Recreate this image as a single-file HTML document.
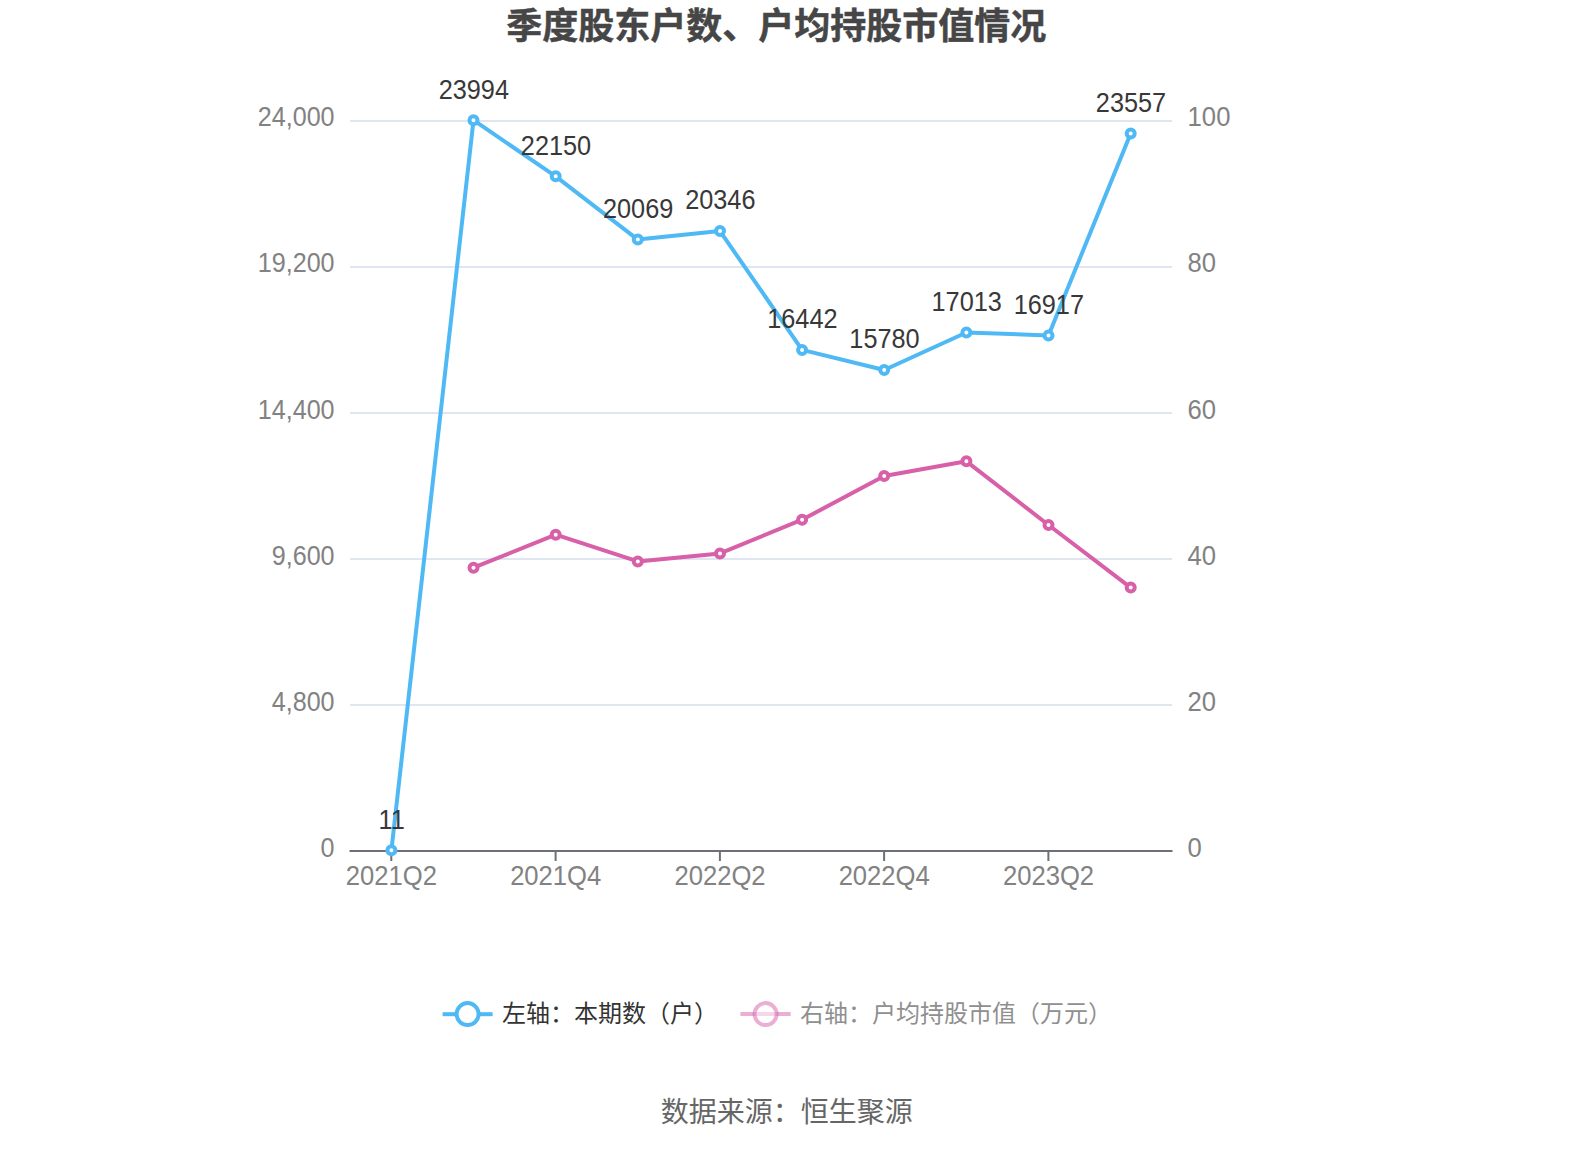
<!DOCTYPE html>
<html lang="zh-CN"><head><meta charset="utf-8"><title>季度股东户数、户均持股市值情况</title>
<style>
html,body{margin:0;padding:0;background:#fff;}
body{width:1574px;height:1150px;overflow:hidden;}
svg{display:block;}
text{font-family:"Liberation Sans","Noto Sans CJK SC",sans-serif;}
.ax{font-size:27px;fill:#828282;}
.dl{font-size:27px;fill:#383838;}
</style></head><body>
<svg width="1574" height="1150" viewBox="0 0 1574 1150">
<rect width="1574" height="1150" fill="#fff"/>
<text x="776.3" y="38.5" text-anchor="middle" font-size="36" font-weight="bold" fill="#464646" stroke="#464646" stroke-width="0.5">季度股东户数、户均持股市值情况</text>
<rect x="350" y="120" width="822" height="2" fill="#E0E6F1"/>
<rect x="350" y="266" width="822" height="2" fill="#E0E6F1"/>
<rect x="350" y="412" width="822" height="2" fill="#E0E6F1"/>
<rect x="350" y="558" width="822" height="2" fill="#E0E6F1"/>
<rect x="350" y="704" width="822" height="2" fill="#E0E6F1"/>
<rect x="349.5" y="850" width="823" height="2" fill="#6E7079"/>
<rect x="390.3" y="851" width="2" height="10" fill="#6E7079"/>
<rect x="554.6" y="851" width="2" height="10" fill="#6E7079"/>
<rect x="718.9" y="851" width="2" height="10" fill="#6E7079"/>
<rect x="883.1" y="851" width="2" height="10" fill="#6E7079"/>
<rect x="1047.4" y="851" width="2" height="10" fill="#6E7079"/>
<text class="ax" transform="translate(334.6 126.0) scale(0.932 1.0)" text-anchor="end">24,000</text>
<text class="ax" transform="translate(334.6 272.0) scale(0.932 1.0)" text-anchor="end">19,200</text>
<text class="ax" transform="translate(334.6 419.0) scale(0.932 1.0)" text-anchor="end">14,400</text>
<text class="ax" transform="translate(334.6 565.0) scale(0.932 1.0)" text-anchor="end">9,600</text>
<text class="ax" transform="translate(334.6 711.0) scale(0.932 1.0)" text-anchor="end">4,800</text>
<text class="ax" transform="translate(334.6 857.0) scale(0.932 1.0)" text-anchor="end">0</text>
<text class="ax" transform="translate(1187.6 126.0) scale(0.951 1.0)">100</text>
<text class="ax" transform="translate(1187.6 272.0) scale(0.951 1.0)">80</text>
<text class="ax" transform="translate(1187.6 419.0) scale(0.951 1.0)">60</text>
<text class="ax" transform="translate(1187.6 565.0) scale(0.951 1.0)">40</text>
<text class="ax" transform="translate(1187.6 711.0) scale(0.951 1.0)">20</text>
<text class="ax" transform="translate(1187.6 857.0) scale(0.951 1.0)">0</text>
<text class="ax" transform="translate(391.4 885.0) scale(0.949 1.0)" text-anchor="middle">2021Q2</text>
<text class="ax" transform="translate(555.7 885.0) scale(0.949 1.0)" text-anchor="middle">2021Q4</text>
<text class="ax" transform="translate(720.0 885.0) scale(0.949 1.0)" text-anchor="middle">2022Q2</text>
<text class="ax" transform="translate(884.2 885.0) scale(0.949 1.0)" text-anchor="middle">2022Q4</text>
<text class="ax" transform="translate(1048.5 885.0) scale(0.949 1.0)" text-anchor="middle">2023Q2</text>
<polyline points="391.4,850.3 473.5,120.2 555.7,176.3 637.8,239.6 720.0,231.1 802.1,349.9 884.2,370.0 966.4,332.5 1048.5,335.4 1130.7,133.5" fill="none" stroke="#4EB9F4" stroke-width="4" stroke-linejoin="bevel"/>
<polyline points="473.5,567.7 555.7,534.7 637.8,561.4 720.0,553.4 802.1,519.7 884.2,476.0 966.4,461.3 1048.5,525.0 1130.7,587.6" fill="none" stroke="#D760A8" stroke-width="4" stroke-linejoin="bevel"/>
<circle cx="391.4" cy="850.3" r="4" fill="#fff" stroke="#4EB9F4" stroke-width="4"/>
<circle cx="473.5" cy="120.2" r="4" fill="#fff" stroke="#4EB9F4" stroke-width="4"/>
<circle cx="555.7" cy="176.3" r="4" fill="#fff" stroke="#4EB9F4" stroke-width="4"/>
<circle cx="637.8" cy="239.6" r="4" fill="#fff" stroke="#4EB9F4" stroke-width="4"/>
<circle cx="720.0" cy="231.1" r="4" fill="#fff" stroke="#4EB9F4" stroke-width="4"/>
<circle cx="802.1" cy="349.9" r="4" fill="#fff" stroke="#4EB9F4" stroke-width="4"/>
<circle cx="884.2" cy="370.0" r="4" fill="#fff" stroke="#4EB9F4" stroke-width="4"/>
<circle cx="966.4" cy="332.5" r="4" fill="#fff" stroke="#4EB9F4" stroke-width="4"/>
<circle cx="1048.5" cy="335.4" r="4" fill="#fff" stroke="#4EB9F4" stroke-width="4"/>
<circle cx="1130.7" cy="133.5" r="4" fill="#fff" stroke="#4EB9F4" stroke-width="4"/>
<circle cx="473.5" cy="567.7" r="4" fill="#fff" stroke="#D760A8" stroke-width="4"/>
<circle cx="555.7" cy="534.7" r="4" fill="#fff" stroke="#D760A8" stroke-width="4"/>
<circle cx="637.8" cy="561.4" r="4" fill="#fff" stroke="#D760A8" stroke-width="4"/>
<circle cx="720.0" cy="553.4" r="4" fill="#fff" stroke="#D760A8" stroke-width="4"/>
<circle cx="802.1" cy="519.7" r="4" fill="#fff" stroke="#D760A8" stroke-width="4"/>
<circle cx="884.2" cy="476.0" r="4" fill="#fff" stroke="#D760A8" stroke-width="4"/>
<circle cx="966.4" cy="461.3" r="4" fill="#fff" stroke="#D760A8" stroke-width="4"/>
<circle cx="1048.5" cy="525.0" r="4" fill="#fff" stroke="#D760A8" stroke-width="4"/>
<circle cx="1130.7" cy="587.6" r="4" fill="#fff" stroke="#D760A8" stroke-width="4"/>
<text class="dl" transform="translate(391.7 828.6) scale(0.937 1.0)" text-anchor="middle">11</text>
<text class="dl" transform="translate(473.8 98.5) scale(0.937 1.0)" text-anchor="middle">23994</text>
<text class="dl" transform="translate(556.0 154.6) scale(0.937 1.0)" text-anchor="middle">22150</text>
<text class="dl" transform="translate(638.1 217.9) scale(0.937 1.0)" text-anchor="middle">20069</text>
<text class="dl" transform="translate(720.3 209.4) scale(0.937 1.0)" text-anchor="middle">20346</text>
<text class="dl" transform="translate(802.4 328.2) scale(0.937 1.0)" text-anchor="middle">16442</text>
<text class="dl" transform="translate(884.5 348.3) scale(0.937 1.0)" text-anchor="middle">15780</text>
<text class="dl" transform="translate(966.7 310.8) scale(0.937 1.0)" text-anchor="middle">17013</text>
<text class="dl" transform="translate(1048.8 313.7) scale(0.937 1.0)" text-anchor="middle">16917</text>
<text class="dl" transform="translate(1131.0 111.8) scale(0.937 1.0)" text-anchor="middle">23557</text>
<rect x="442.6" y="1012.2" width="50" height="4" fill="#4EB9F4"/>
<circle cx="467.6" cy="1014.1" r="11" fill="#fff" stroke="#4EB9F4" stroke-width="4"/>
<text x="502" y="1022" font-size="24" fill="#333">左轴：本期数（户）</text>
<rect x="740.4" y="1012" width="50.3" height="4" fill="#D760A8" fill-opacity="0.5"/>
<circle cx="765.6" cy="1014.1" r="11" fill="#fff" fill-opacity="0.5" stroke="#D760A8" stroke-opacity="0.5" stroke-width="4"/>
<text x="800" y="1022" font-size="24" fill="#8f8f8f">右轴：户均持股市值（万元）</text>
<text x="786.7" y="1122.2" font-size="28" text-anchor="middle" fill="#666">数据来源：恒生聚源</text>
</svg></body></html>
